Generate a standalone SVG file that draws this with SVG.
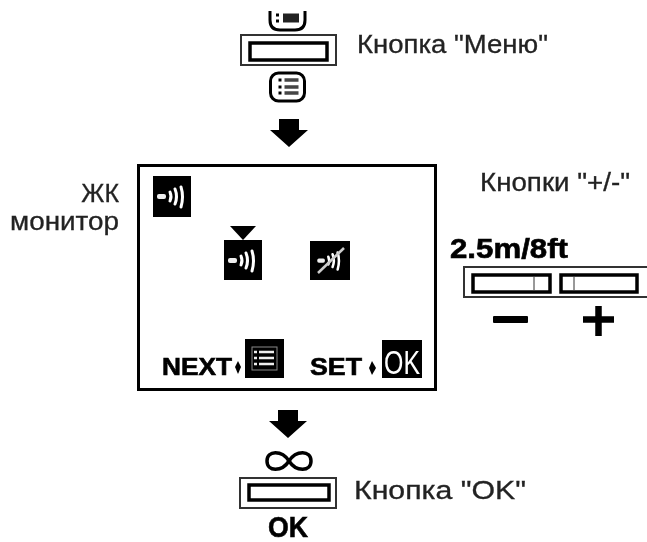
<svg xmlns="http://www.w3.org/2000/svg" width="647" height="542" viewBox="0 0 647 542">
<style>
.lbl{font-family:"Liberation Sans",Arial,sans-serif;font-size:25px;fill:#222;stroke:#222;stroke-width:.3}
.bold{font-family:"Liberation Sans",Arial,sans-serif;font-weight:bold;fill:#000;stroke:#000;stroke-width:.6}
.outer{fill:#fff;stroke:#333;stroke-width:2}
.inner{fill:#fff;stroke:#000;stroke-width:3.5}
.blk{fill:#000}
.wht{fill:none;stroke:#fff;stroke-linecap:round}
</style>
<defs>
<filter id="soft" x="-5%" y="-5%" width="110%" height="110%"><feGaussianBlur stdDeviation="0.6"/></filter>
<g id="speaker">
<rect x="-15" y="-3" width="9" height="5" rx="2" fill="#eee"/>
<path class="wht" stroke-width="3" d="M-2-5Q0-.5-2 4M3-8Q6-.5 3 7M9-10Q12-.5 9 10"/>
</g>
<g id="listicon">
<rect x="-17" y="-14" width="34" height="28" rx="8" fill="#fff" stroke="#000" stroke-width="3"/>
<path d="M-9-7h3M-9 0h3M-9 6h3" stroke="#000" stroke-width="3"/>
<path d="M-3-7H11M-3 0H11M-3 6H11" stroke="#444" stroke-width="3.5"/>
</g>
<path id="bigarrow" class="blk" d="M-10-14H10V-3H19L0 14-19-3H-10Z"/>
</defs>
<g filter="url(#soft)">
<g id="menu-top-icon"><path d="M270 11V20Q270 30 280 30H295Q305 30 305 20V11" fill="#fff" stroke="#000" stroke-width="3"/><path d="M276 15h3M276 21h3" stroke="#000" stroke-width="3"/><path d="M283 18H299" stroke="#222" stroke-width="9"/></g>
<g id="menu-button"><rect class="outer" x="241" y="35" width="95" height="30"/><rect class="inner" x="250" y="43" width="77" height="17"/></g>
<g id="menu-icon"><use href="#listicon" transform="translate(287.500 87)"/></g>
<g id="arrow-1"><use href="#bigarrow" transform="translate(289 133)"/></g>
<g id="lcd-monitor"><rect x="138.500" y="165.500" width="297" height="224" fill="#fff" stroke="#000" stroke-width="3"/>
<rect class="blk" x="153" y="176" width="38" height="41"/><use href="#speaker" transform="translate(172 197)"/>
<path class="blk" d="M230 226H256L243 240Z"/>
<rect class="blk" x="224" y="240" width="38" height="40"/><use href="#speaker" transform="translate(243 261)"/>
<rect class="blk" x="310" y="241" width="40" height="39"/><use href="#speaker" transform="translate(330 261) scale(.85)"/><path d="M318 273L344 248" stroke="#ccc" stroke-width="2.500"/>
<text class="bold" x="162" y="375" font-size="23" textLength="70" lengthAdjust="spacingAndGlyphs">NEXT</text>
<path class="blk" d="M238 361L241 367 238 374 235 367Z"/>
<rect class="blk" x="245" y="339" width="39" height="39"/><rect x="252" y="347" width="25" height="23" fill="none" stroke="#888"/><path d="M254 352h3M254 358h3M254 364h3M259 352h15M259 358h15M259 364h15" stroke="#eee" stroke-width="2.500"/>
<text class="bold" x="310" y="375" font-size="23" textLength="52" lengthAdjust="spacingAndGlyphs">SET</text>
<path class="blk" d="M372 361L376 368 372 375 369 368Z"/>
<rect class="blk" x="382" y="340" width="40" height="38"/><text x="384" y="374" font-family="'Liberation Sans',Arial,sans-serif" font-size="33" fill="#fff" textLength="36" lengthAdjust="spacingAndGlyphs">OK</text></g>
<g id="plus-minus-button"><text class="bold" x="450" y="258" font-size="27" textLength="118" lengthAdjust="spacingAndGlyphs">2.5m/8ft</text>
<path class="outer" d="M647 267H464V297H647" />
<rect class="inner" x="473" y="275" width="77" height="17"/><path d="M534 277V290" stroke="#333"/>
<rect class="inner" x="561" y="275" width="76" height="17"/><path d="M574 277V290" stroke="#333"/>
<rect class="blk" x="493" y="316" width="35" height="7" rx="1"/>
<path d="M583 319.500H614M598.500 306V336" stroke="#000" stroke-width="6.500"/></g>
<g id="arrow-2"><use href="#bigarrow" transform="translate(288 424)"/></g>
<g id="ok-button"><path d="M289 461C282 450 267 450 267 461 267 472 282 472 289 461 296 450 311 450 311 461 311 472 296 472 289 461Z" fill="none" stroke="#000" stroke-width="3.500"/>
<rect class="outer" x="240" y="478" width="96" height="30"/><rect class="inner" x="249" y="485" width="80" height="15"/>
<text class="bold" x="268" y="537" font-size="29" textLength="40" lengthAdjust="spacingAndGlyphs">OK</text></g>
</g>
<g filter="url(#soft)">
<text class="lbl" x="357" y="53" textLength="191" lengthAdjust="spacingAndGlyphs">Кнопка "Меню"</text>
<text class="lbl" x="480" y="191" textLength="150" lengthAdjust="spacingAndGlyphs">Кнопки "+/-"</text>
<text class="lbl" x="119" y="202" text-anchor="end">ЖК</text>
<text class="lbl" x="10" y="230" textLength="109" lengthAdjust="spacingAndGlyphs">монитор</text>
<text class="lbl" x="354" y="499" textLength="172" lengthAdjust="spacingAndGlyphs">Кнопка "OK"</text>
</g>
</svg>
